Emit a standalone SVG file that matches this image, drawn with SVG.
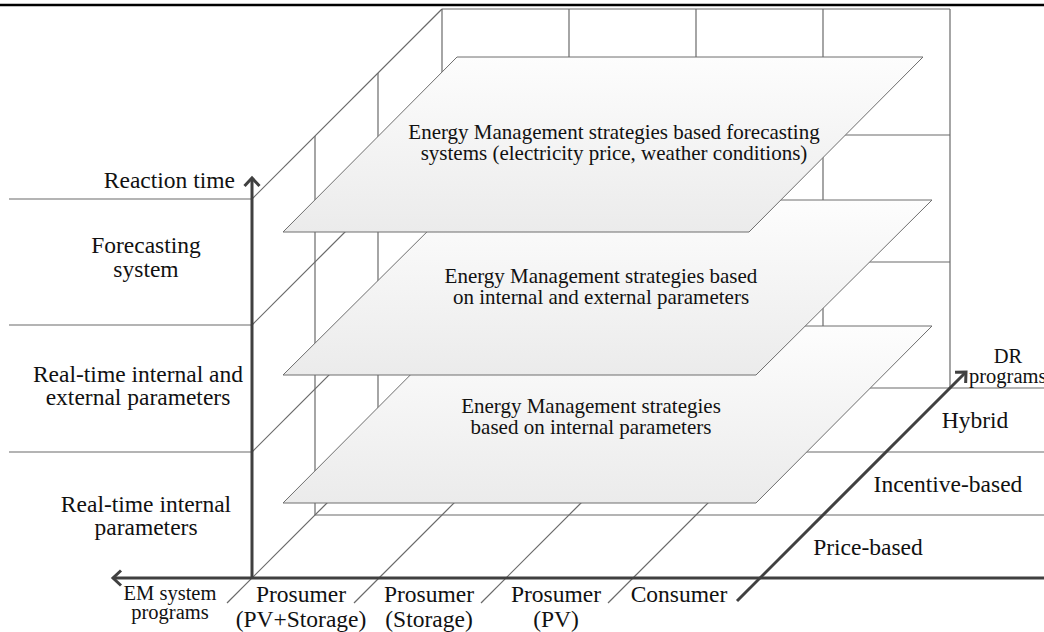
<svg xmlns="http://www.w3.org/2000/svg" width="1044" height="632" viewBox="0 0 1044 632">
<defs>
<style>
.grid{stroke:#6a6a6a;stroke-width:1.2;fill:none}
.axis{stroke:#404040;stroke-width:3;fill:none}
.plane{stroke:#6e6e6e;stroke-width:1;fill:url(#pg)}
.lbl{font-family:"Liberation Serif","Times New Roman",serif;font-size:23.5px;fill:#111;text-anchor:middle}
.ptx{font-family:"Liberation Serif","Times New Roman",serif;font-size:21px;fill:#111;text-anchor:middle}
.sm{font-family:"Liberation Serif","Times New Roman",serif;font-size:20.5px;fill:#111;text-anchor:middle}
</style>
<linearGradient id="pg" x1="0" y1="0" x2="0" y2="1">
<stop offset="0" stop-color="#fdfdfd"/>
<stop offset="1" stop-color="#ebebeb"/>
</linearGradient>
<marker id="chev" markerUnits="userSpaceOnUse" markerWidth="24" markerHeight="24" refX="10" refY="10" orient="auto" overflow="visible">
<path d="M2,2.5 L10,10 L2,17.5" fill="none" stroke="#404040" stroke-width="3"/>
</marker>
</defs>
<rect width="1044" height="632" fill="#fff"/>
<line x1="0" y1="5" x2="1044" y2="5" stroke="#000" stroke-width="2.5"/>

<g id="grid">
<!-- left label separators -->
<line class="grid" x1="9" y1="199" x2="252" y2="199"/>
<line class="grid" x1="9" y1="325" x2="252" y2="325"/>
<line class="grid" x1="9" y1="452" x2="252" y2="452"/>
<!-- back wall -->
<line class="grid" x1="442" y1="9" x2="950" y2="9"/>
<line class="grid" x1="442" y1="135" x2="950" y2="135"/>
<line class="grid" x1="442" y1="262" x2="950" y2="262"/>
<line class="grid" x1="442" y1="388" x2="1044" y2="388"/>
<line class="grid" x1="442" y1="9" x2="442" y2="388"/>
<line class="grid" x1="569" y1="9" x2="569" y2="388"/>
<line class="grid" x1="696" y1="9" x2="696" y2="388"/>
<line class="grid" x1="823" y1="9" x2="823" y2="388"/>
<line class="grid" x1="950" y1="9" x2="950" y2="388"/>
<!-- left wall -->
<line class="grid" x1="252" y1="199" x2="442" y2="9"/>
<line class="grid" x1="252" y1="325" x2="442" y2="135"/>
<line class="grid" x1="252" y1="452" x2="442" y2="262"/>
<line class="grid" x1="315" y1="136" x2="315" y2="515"/>
<line class="grid" x1="378" y1="73" x2="378" y2="452"/>
<!-- floor -->
<line class="grid" x1="315" y1="515" x2="1044" y2="515"/>
<line class="grid" x1="378" y1="452" x2="1044" y2="452"/>
<line class="grid" x1="227" y1="603" x2="442" y2="388"/>
<line class="grid" x1="354" y1="603" x2="569" y2="388"/>
<line class="grid" x1="481" y1="603" x2="696" y2="388"/>
<line class="grid" x1="608" y1="603" x2="823" y2="388"/>
</g>

<g id="plane-internal">
<polygon class="plane" points="459,326 932,326 756,503 283,503"/>
<text class="ptx" x="591" y="413">Energy Management strategies</text>
<text class="ptx" x="591" y="434">based on internal parameters</text>
</g>
<g id="plane-internal-external">
<polygon class="plane" points="459,200 932,200 756,375 283,375"/>
<text class="ptx" x="601" y="283">Energy Management strategies based</text>
<text class="ptx" x="601" y="304">on internal and external parameters</text>
</g>
<g id="plane-forecasting">
<polygon class="plane" points="457,57 923,57 749,232 283,232"/>
<text class="ptx" x="614" y="139">Energy Management strategies based forecasting</text>
<text class="ptx" x="614" y="160">systems (electricity price, weather conditions)</text>
</g>

<g id="connectors">
<line class="axis" x1="252" y1="578" x2="252" y2="178" marker-end="url(#chev)"/>
<line class="axis" x1="1044" y1="578" x2="113" y2="578" marker-end="url(#chev)"/>
<line class="axis" x1="737" y1="601" x2="966" y2="372" marker-end="url(#chev)"/>
</g>

<g id="label-reaction-time">
<text class="lbl" x="235" y="188" style="text-anchor:end">Reaction time</text>
</g>
<g id="label-forecasting">
<text class="lbl" x="146" y="253">Forecasting</text>
<text class="lbl" x="146" y="277">system</text>
</g>
<g id="label-rt-int-ext">
<text class="lbl" x="138" y="382">Real-time internal and</text>
<text class="lbl" x="138" y="405">external parameters</text>
</g>
<g id="label-rt-int">
<text class="lbl" x="146" y="512">Real-time internal</text>
<text class="lbl" x="146" y="535">parameters</text>
</g>
<g id="label-em">
<text class="sm" x="170" y="600">EM system</text>
<text class="sm" x="170" y="619">programs</text>
</g>
<g id="label-pv-storage">
<text class="lbl" x="301" y="602">Prosumer</text>
<text class="lbl" x="301" y="627">(PV+Storage)</text>
</g>
<g id="label-storage">
<text class="lbl" x="429" y="602">Prosumer</text>
<text class="lbl" x="429" y="627">(Storage)</text>
</g>
<g id="label-pv">
<text class="lbl" x="556" y="602">Prosumer</text>
<text class="lbl" x="556" y="627">(PV)</text>
</g>
<g id="label-consumer">
<text class="lbl" x="679" y="602">Consumer</text>
</g>
<g id="label-dr">
<text class="sm" x="1008" y="363">DR</text>
<text class="sm" x="969" y="383" style="text-anchor:start">programs</text>
</g>
<g id="label-hybrid">
<text class="lbl" x="975" y="428">Hybrid</text>
</g>
<g id="label-incentive">
<text class="lbl" x="948" y="492">Incentive-based</text>
</g>
<g id="label-price">
<text class="lbl" x="868" y="555">Price-based</text>
</g>
</svg>
